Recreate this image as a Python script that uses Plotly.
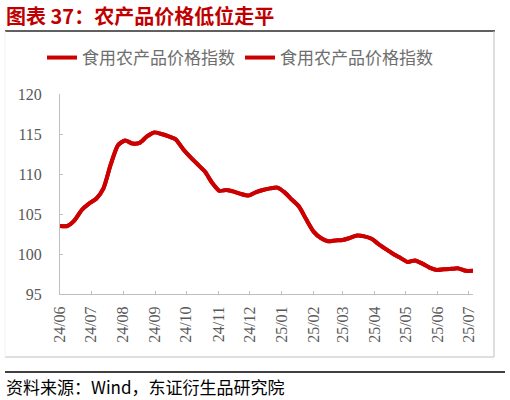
import pandas as pd
import plotly.graph_objects as go

# weekly food price index
dates = pd.date_range("2024-06-01", periods=58, freq="7D")
food_index = [
    103.5, 103.5, 104.2, 105.5, 106.3, 106.9, 108.2, 111.2, 113.6, 114.2,
    113.8, 113.9, 114.7, 115.2, 115.0, 114.7, 114.3, 113.1, 112.1, 111.2,
    110.3, 108.9, 107.9, 108.0, 107.8, 107.5, 107.3, 107.7, 108.0, 108.2,
    108.3, 107.7, 106.8, 105.9, 104.3, 102.8, 102.0, 101.6, 101.7, 101.75,
    102.0, 102.3, 102.2, 101.9, 101.2, 100.6, 100.0, 99.5, 99.0, 99.2,
    98.8, 98.3, 98.0, 98.1, 98.15, 98.2, 97.9, 97.9,
]
series_name = "食用农产品价格指数"
tick_dates = pd.date_range("2024-06-01", "2025-07-01", freq="MS")

W, H = 510, 400
ML, MR, MT, MB = 60, 37, 94, 106
pw, ph = W - ML - MR, H - MT - MB


def px(x):
    return (x - ML) / pw


def py(y):
    return (H - MB - y) / ph


red = "#CC0000"
grey = "#595959"
serif = "Liberation Serif"
cjk = "Noto Sans CJK SC"

fig = go.Figure()
for k in range(2):
    fig.add_trace(go.Scatter(
        x=dates, y=food_index, mode="lines", name=series_name,
        line=dict(color=red, width=4, shape="spline", smoothing=0.6),
    ))

fig.update_layout(
    width=W, height=H,
    margin=dict(l=ML, r=MR, t=MT, b=MB),
    paper_bgcolor="white", plot_bgcolor="white",
    showlegend=True,
    legend=dict(orientation="h", x=px(42), xanchor="left", y=py(58), yanchor="middle",
                font=dict(family=cjk, size=17, color="#6E6E6E"), bgcolor="rgba(0,0,0,0)"),
    xaxis=dict(
        type="date", range=[dates[0], dates[-1]],
        tickvals=tick_dates, tickformat="%y/%m", tickangle=-90,
        ticks="inside", ticklen=3, tickcolor="#BFBFBF",
        showline=True, linecolor="#BFBFBF", linewidth=1,
        showgrid=False, zeroline=False,
        tickfont=dict(family=serif, size=16, color=grey),
        ticklabelstandoff=5,
    ),
    yaxis=dict(
        range=[95, 120], dtick=5,
        ticks="inside", ticklen=3, tickcolor="#BFBFBF",
        showline=True, linecolor="#BFBFBF", linewidth=1,
        showgrid=False, zeroline=False,
        tickfont=dict(family=serif, size=16, color=grey),
        ticklabelstandoff=14,
    ),
)

shapes = [
    # title underline
    dict(x0=px(5), x1=px(495), y0=py(31), y1=py(31), line=dict(color="#606060", width=2)),
    # chart box
    dict(x0=px(494), x1=px(494), y0=py(31), y1=py(357), line=dict(color="#BFBFBF", width=1)),
    dict(x0=px(5), x1=px(494), y0=py(357), y1=py(357), line=dict(color="#BFBFBF", width=1)),
    dict(x0=px(5), x1=px(5), y0=py(31), y1=py(357), line=dict(color="#F2F2F2", width=1)),
    # footer rule
    dict(x0=px(5), x1=px(505), y0=py(372), y1=py(372), line=dict(color="#000000", width=1.5)),
]
for s in shapes:
    fig.add_shape(type="line", xref="paper", yref="paper", **s)

fig.add_annotation(
    text="<b>图表 37：农产品价格低位走平</b>", xref="paper", yref="paper",
    x=px(4), y=py(15), xanchor="left", yanchor="middle", showarrow=False,
    font=dict(family=cjk, size=20, color="#C00000"),
)
fig.add_annotation(
    text="资料来源：Wind，东证衍生品研究院", xref="paper", yref="paper",
    x=px(4), y=py(386), xanchor="left", yanchor="middle", showarrow=False,
    font=dict(family=cjk, size=17, color="#000000"),
)

# page has a default 8px body margin; drop it so the figure fills the window
fig.write_html("out.html", config={"displayModeBar": False},
               post_script="document.body.style.margin='0';")
